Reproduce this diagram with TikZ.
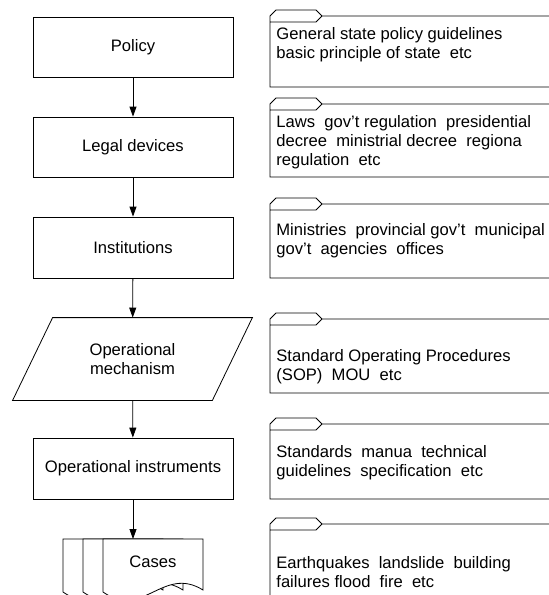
\documentclass[tikz,border=0pt]{standalone}
\usepackage{fontspec}
\setmainfont{Liberation Sans}
\usetikzlibrary{arrows.meta}
\tikzset{every picture/.style={x=1pt,y=-1pt,line width=.8pt}}
\tikzset{every node/.style={font=\fontsize{16.6}{19}\selectfont}}
\tikzset{block/.style={rectangle,draw,minimum width=200pt,inner sep=2pt}}
\tikzset{arr/.style={-{Triangle[length=10pt,width=7pt]}}}
\tikzset{info/.style={anchor=north west,align=left,inner sep=0pt}}
\tikzset{page/.style={draw,fill=white}}
\newcommand{\folder}[2]{%
  \draw (270,#1+12) -- (270,#1+6) -- (276,#1) -- (316,#1) -- (322,#1+6) -- (316,#1+12) -- cycle
        (322,#1+6) -- (560,#1+6)
        (270,#1+12) -- (270,#2) -- (560,#2);}

\begin{document}
\begin{tikzpicture}
\useasboundingbox (0,0) rectangle (549,595);
\clip (0,0) rectangle (549,595);
\node [block,minimum height=60pt] (policy) at (133,47) {Policy};
\node [block,minimum height=60pt] (legal) at (133,147) {Legal devices};
\node [block,minimum height=61pt] (inst) at (133,247.5) {Institutions};
\node [align=center,minimum width=199pt,minimum height=82pt] (mech) at (132.5,359) {Operational\\mechanism};
\node [block,minimum height=61pt] (instr) at (133,468.5) {Operational instruments};
\coordinate (stack) at (133,539);
\draw ([xshift=20pt]mech.north west) -- ([xshift=20pt]mech.north east) -- ([xshift=-20pt]mech.south east) -- ([xshift=-20pt]mech.south west) -- cycle;
\foreach \x in {63,83,103}
  \draw [page] (\x,539) -- (\x+100,539) -- (\x+100,590) .. controls (\x+60,565) and (\x+40,620) .. (\x,592) -- cycle;
\node (cases) at (153,562) {Cases};
\draw [arr] (policy) -- (legal);
\draw [arr] (legal) -- (inst);
\draw [arr] (inst) -- (mech);
\draw [arr] (mech) -- (instr);
\draw [arr] (instr) -- (stack);

\folder{10}{87}
\folder{98}{177}
\folder{198}{278}
\folder{313}{393}
\folder{418}{499}
\folder{518}{620}
\node [info] (guide) at (276,27) {General state policy guidelines\\basic principle of state~ etc};
\node [info] (laws) at (276,115) {Laws~ gov't regulation~ presidential\\decree~ ministrial decree~ regiona\\regulation~ etc};
\node [info] (minis) at (276,223) {Ministries~ provincial gov't~ municipal\\gov't~ agencies~ offices};
\node [info] (sop) at (276,349) {Standard Operating Procedures\\(SOP)~ MOU~ etc};
\node [info] (stand) at (276,445) {Standards~ manua~ technical\\guidelines~ specification~ etc};
\node [info] (quake) at (276,556) {Earthquakes~ landslide~ building\\failures flood~ fire~ etc};
\end{tikzpicture}
\end{document}
